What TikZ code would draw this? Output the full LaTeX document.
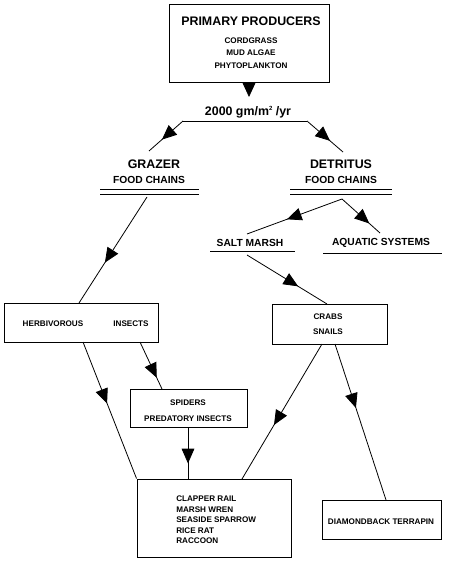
\documentclass[tikz,border=0pt]{standalone}
\usepackage{fontspec}
\setmainfont{Liberation Sans}
\usetikzlibrary{arrows.meta,decorations.markings,fit}
\tikzset{
  box/.style={draw, line width=0.7pt, inner sep=0pt},
  conn/.style={line width=0.6pt},
  midarr/.style={conn, postaction={decorate}, decoration={markings,
     mark=at position #1 with {\arrow{Triangle[length=11pt,width=9.5pt]}}}},
  big/.style={font=\fontsize{9.3}{11}\selectfont\bfseries, inner sep=0pt},
  mid/.style={font=\fontsize{7.7}{9}\selectfont\bfseries, inner sep=0pt},
  small/.style={font=\fontsize{6.1}{7.5}\selectfont\bfseries, inner sep=0pt},
  rule/.style={line width=0.6pt}
}
\begin{document}
\begin{tikzpicture}[x=0.75pt, y=-0.75pt]
\useasboundingbox (0,0) rectangle (450,563);
% boxes
\node[box, fit={(169,4) (329,82)}] (top) {};
\node[box, fit={(4,303) (158,342)}] (herb) {};
\node[box, fit={(272,304) (387,344)}] (crabs) {};
\node[box, fit={(130,389) (247,427)}] (spiders) {};
\node[box, fit={(137,479) (291,557)}] (preds) {};
\node[box, fit={(322,500) (441,539)}] (terr) {};
% texts
\node[big] (tp) at (251,21) {PRIMARY PRODUCERS};
\node[small] (t1) at (251,41) {CORDGRASS};
\node[small] (t2) at (251,53) {MUD ALGAE};
\node[small] (t3) at (251,66) {PHYTOPLANKTON};
\node[big] (flux) at (248,112) {2000 gm/m\raisebox{3.2pt}{\fontsize{4.5}{5}\selectfont 2} /yr};
\node[big] (gz) at (154,164) {GRAZER};
\node[mid] (gzf) at (149,180) {FOOD CHAINS};
\node[big] (dt) at (341,164) {DETRITUS};
\node[mid] (dtf) at (341,180) {FOOD CHAINS};
\node[mid] (sm) at (250,243) {SALT MARSH};
\node[mid] (aq) at (381,243) {AQUATIC SYSTEMS};
\node[small] (h1) at (53,324) {HERBIVOROUS};
\node[small] (h2) at (131,324) {INSECTS};
\node[small] (c1) at (328,317) {CRABS};
\node[small] (c2) at (328,332) {SNAILS};
\node[small] (s1) at (188,403) {SPIDERS};
\node[small] (s2) at (188,419) {PREDATORY INSECTS};
\node[small, anchor=west] (p1) at (176,499) {CLAPPER RAIL};
\node[small, anchor=west] (p2) at (176,509.5) {MARSH WREN};
\node[small, anchor=west] (p3) at (176,520) {SEASIDE SPARROW};
\node[small, anchor=west] (p4) at (176,530.5) {RICE RAT};
\node[small, anchor=west] (p5) at (176,541) {RACCOON};
\node[small] (tt) at (381,522) {DIAMONDBACK TERRAPIN};
% rules
\draw[rule] (100,189) -- (199,189);
\draw[rule] (100,194) -- (199,194);
\draw[rule] (290,189) -- (392,189);
\draw[rule] (290,194) -- (392,194);
\draw[rule] (210,251) -- (295,251);
\draw[rule] (323,253) -- (442,253);
% coordinates
\coordinate (ta) at (249,97);
\coordinate (sp1) at (183,121);
\coordinate (sp2) at (307,121);
\coordinate (gzt) at (149,151);
\coordinate (dtt) at (343,152);
\coordinate (gzb) at (147,197);
\coordinate (herbt) at (79,303);
\coordinate (dtb) at (342,199);
\coordinate (smt) at (247,234);
\coordinate (aqt) at (380,233);
\coordinate (smb) at (247,255);
\coordinate (crabst) at (327,304);
\coordinate (herbb1) at (83,342);
\coordinate (herbb2) at (140,342);
\coordinate (spt) at (162,389);
\coordinate (spb) at (188,427);
\coordinate (predt) at (188,479);
\coordinate (crb1) at (322,344);
\coordinate (crb2) at (335,344);
\coordinate (predt2) at (242,479);
\coordinate (terrt) at (386,500);
% connectors
\draw[conn, -{Triangle[length=11pt,width=10pt]}] (top.south) -- (ta);
\draw[conn] (sp1) -- (sp2);
\draw[midarr=0.62] (sp1) -- (gzt);
\draw[midarr=0.64] (sp2) -- (dtt);
\draw[midarr=0.62] (gzb) -- (herbt);
\draw[midarr=0.58] (dtb) -- (smt);
\draw[midarr=0.72] (dtb) -- (aqt);
\draw[midarr=0.64] (smb) -- (crabst);
\draw[midarr=0.45] (herbb1) -- (preds.north west);
\draw[midarr=0.76] (herbb2) -- (spt);
\draw[midarr=0.7] (spb) -- (predt);
\draw[midarr=0.6] (crb1) -- (predt2);
\draw[midarr=0.41] (crb2) -- (terrt);
\end{tikzpicture}
\end{document}
